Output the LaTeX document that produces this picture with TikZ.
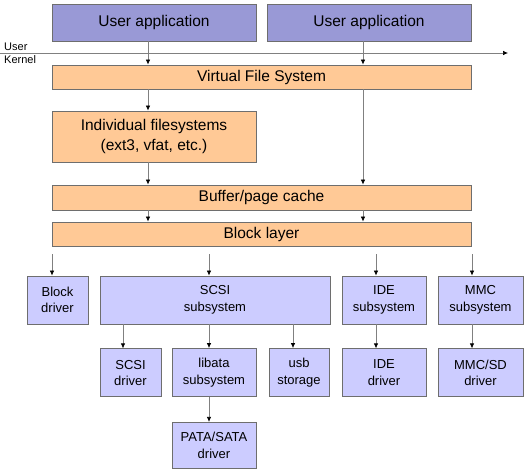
\documentclass[tikz,border=0pt]{standalone}
\usepackage{fontspec}
\setmainfont{Liberation Sans}
\usetikzlibrary{arrows.meta, positioning}
\definecolor{appblue}{RGB}{153,153,214}
\definecolor{vfsorange}{RGB}{255,201,150}
\definecolor{drvblue}{RGB}{204,204,255}
\definecolor{edgegray}{RGB}{110,110,110}

\tikzset{
    layer/.style={draw=edgegray, line width=0.8pt, inner sep=0pt, align=center},
    app/.style={layer, fill=appblue, minimum height=37pt, font=\fontsize{15.5}{18}\selectfont},
    kern/.style={layer, fill=vfsorange, font=\fontsize{15.5}{20}\selectfont},
    drv/.style={layer, fill=drvblue, minimum height=48pt, font=\fontsize{13}{16.5}\selectfont},
    arr/.style={draw=gray, line width=0.7pt, -{Latex[length=5pt,width=4.5pt,color=black]}},
}

\begin{document}
\begin{tikzpicture}[x=1pt, y=-1pt]
            \useasboundingbox (0,0) rectangle (527,474);
            % user space
            \node[app, minimum width=204pt] (app1) at (154,22.5) {User application};
            \node[app, minimum width=204pt] (app2) at (369,22.5) {User application};
            % kernel layers
            \node[kern, minimum width=419pt, minimum height=24pt] (vfs) at (261.5,77) {Virtual File System};
            \node[kern, minimum width=204pt, minimum height=51pt] (indfs) at (154,136.5) {Individual filesystems\\(ext3, vfat, etc.)};
            \node[kern, minimum width=419pt, minimum height=25pt] (cache) at (261.5,197.5) {Buffer/page cache};
            \node[kern, minimum width=419pt, minimum height=24pt] (block) at (261.5,234) {Block layer};
            % subsystems
            \node[drv, minimum width=61pt] (blkdrv) at (57.5,300) {Block\\driver};
            \node[drv, minimum width=230pt] (scsi) at (215,300) {SCSI\\subsystem};
            \node[drv, minimum width=84pt] (ide) at (384,300) {IDE\\subsystem};
            \node[drv, minimum width=85pt] (mmc) at (480.5,300) {MMC\\subsystem};
            % drivers
            \node[drv, minimum width=61pt, below=24pt of scsi.south west, anchor=north west] (scsidrv) {SCSI\\driver};
            \node[drv, minimum width=84pt] (libata) at (214,372.5) {libata\\subsystem};
            \node[drv, minimum width=60pt] (usb) at (299,372.5) {usb\\storage};
            \node[drv, minimum width=84pt, below=24pt of ide] (idedrv) {IDE\\driver};
            \node[drv, minimum width=85pt, below=24pt of mmc] (mmcdrv) {MMC/SD\\driver};
            \node[drv, minimum width=84pt, minimum height=46pt, below=25pt of libata] (pata) {PATA/SATA\\driver};

            % user/kernel boundary
            \coordinate (ukl) at (0,53);
            \coordinate (ukr) at (508,53);
            \draw[arr] (ukl) -- (ukr);
            \node[anchor=south west, inner sep=0pt, font=\fontsize{11}{12}\selectfont] (user) at (4,51) {User};
            \node[anchor=north west, inner sep=0pt, font=\fontsize{11}{12}\selectfont] (kernel) at (4,55.5) {Kernel};

            % columns for the connectors
            \coordinate (cl) at (148,0);
            \coordinate (cr) at (363,0);
            \coordinate (b1) at (52,0);
            \coordinate (b2) at (209,0);
            \coordinate (b3) at (376,0);
            \coordinate (b4) at (472,0);
            \coordinate (s1) at (123,0);
            \coordinate (s3) at (293,0);

            \draw[arr] (app1.south -| cl) -- (vfs.north -| cl);
            \draw[arr] (app2.south -| cr) -- (vfs.north -| cr);
            \draw[arr] (vfs.south -| cl) -- (indfs.north -| cl);
            \draw[arr] (vfs.south -| cr) -- (cache.north -| cr);
            \draw[arr] (indfs.south -| cl) -- (cache.north -| cl);
            \draw[arr] (cache.south -| cl) -- (block.north -| cl);
            \draw[arr] (cache.south -| cr) -- (block.north -| cr);
            \draw[arr, shorten <=8pt] (block.south -| b1) -- (blkdrv.north -| b1);
            \draw[arr, shorten <=8pt] (block.south -| b2) -- (scsi.north -| b2);
            \draw[arr, shorten <=8pt] (block.south -| b3) -- (ide.north -| b3);
            \draw[arr, shorten <=8pt] (block.south -| b4) -- (mmc.north -| b4);
            \draw[arr] (scsi.south -| s1) -- (scsidrv.north -| s1);
            \draw[arr] (scsi.south -| b2) -- (libata.north -| b2);
            \draw[arr] (scsi.south -| s3) -- (usb.north -| s3);
            \draw[arr] (ide.south -| b3) -- (idedrv.north -| b3);
            \draw[arr] (mmc.south -| b4) -- (mmcdrv.north -| b4);
            \draw[arr] (libata.south -| b2) -- (pata.north -| b2);
\end{tikzpicture}
\end{document}
